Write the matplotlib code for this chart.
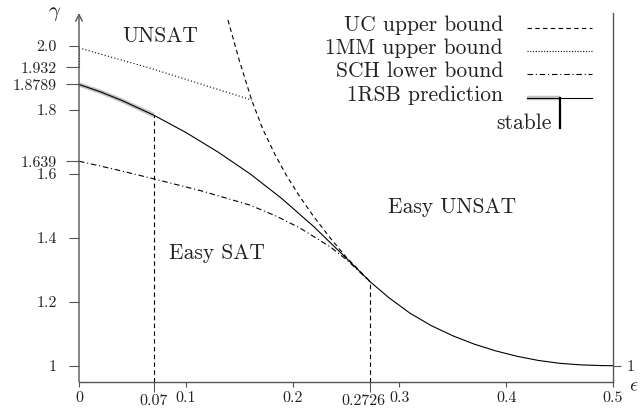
import matplotlib
matplotlib.use("Agg")
import matplotlib.pyplot as plt
from matplotlib.lines import Line2D
from matplotlib.transforms import ScaledTranslation

plt.rcParams["font.family"] = ["cmr10", "DejaVu Serif"]
plt.rcParams["mathtext.fontset"] = "cm"
plt.rcParams["axes.unicode_minus"] = False

# 1RSB prediction (solid), first part marked as stable (grey band)
rsb_eps = [0, 0.02, 0.04, 0.07, 0.1, 0.13, 0.16, 0.19, 0.22, 0.25, 0.2726,
           0.29, 0.31, 0.33, 0.35, 0.37, 0.39, 0.41, 0.43, 0.45, 0.47, 0.49, 0.5]
rsb_gamma = [1.8789, 1.856, 1.829, 1.783, 1.729, 1.668, 1.600, 1.522, 1.434,
             1.337, 1.2625, 1.2129, 1.1639, 1.1249, 1.0935, 1.0675, 1.0465,
             1.0295, 1.0165, 1.0075, 1.0025, 1.0003, 1.0]
stable_eps_max = 0.07

# UC upper bound (dashed)
uc_eps = [0.1395, 0.150, 0.1617, 0.172, 0.1835, 0.195, 0.207, 0.22, 0.235,
          0.25, 0.2726]
uc_gamma = [2.080, 1.955, 1.830, 1.740, 1.660, 1.590, 1.527, 1.465, 1.400,
            1.340, 1.2625]

# 1MM upper bound (dotted)
mm_eps = [0, 0.0665, 0.162]
mm_gamma = [1.993, 1.930, 1.830]
mm_start = [1.932, 1.993]

# SCH lower bound (dash-dot)
sch_eps = [0, 0.035, 0.07, 0.115, 0.16, 0.185, 0.207, 0.235, 0.251, 0.2726]
sch_gamma = [1.639, 1.6125, 1.584, 1.546, 1.502, 1.467, 1.430, 1.372, 1.330,
             1.2625]

# thresholds
eps_marks = [0.07, 0.2726]
gamma_marks = [1.783, 1.2625]

x_ticks = [0, 0.1, 0.2, 0.3, 0.4, 0.5]
x_labels = ["0", "0.1", "0.2", "0.3", "0.4", "0.5"]
x_special = [0.07, 0.2726]
x_special_labels = ["0.07", "0.2726"]
y_ticks = [1, 1.2, 1.4, 1.6, 1.8, 2.0]
y_labels = ["1", "1.2", "1.4", "1.6", "1.8", "2.0"]
y_special = [1.639, 1.8789, 1.932]
y_special_labels = ["1.639", "1.8789", "1.932"]

W, H = 640, 411
AX_COL = "#555555"
TXT_COL = "#222222"
TICK_FS = 11.5
BIG_FS = 15.5


def px(x, y):
    return x / W, 1 - y / H


fig = plt.figure(figsize=(6.4, 4.11), dpi=100)
ax = fig.add_axes([79 / W, (H - 381.7) / H, 534 / W, (381.7 - 13) / H])
ax.set_xlim(0, 0.5)
ax.set_ylim(0.95, 2.1022)

# curves
stable = [i for i, e in enumerate(rsb_eps) if e <= stable_eps_max]
ax.plot([rsb_eps[i] for i in stable], [rsb_gamma[i] for i in stable],
        color="#c4c4c4", lw=3.2, solid_capstyle="butt")
ax.plot(rsb_eps, rsb_gamma, color="black", lw=0.8)
ax.plot(uc_eps, uc_gamma, color="black", lw=0.8, dashes=(4, 3))
ax.plot(mm_eps, mm_gamma, color="black", lw=0.8, dashes=(1, 2))
ax.plot([0, 0], mm_start, color="black", lw=0.8, dashes=(1, 1.5))
ax.plot(sch_eps, sch_gamma, color="black", lw=0.8, dashes=(5, 2.5, 1, 2.5))
for e, g in zip(eps_marks, gamma_marks):
    ax.plot([e, e], [0.95, g], color="black", lw=0.8, dashes=(4, 3))

# axes styling
for s in ["top", "left"]:
    ax.spines[s].set_visible(False)
for s in ["bottom", "right"]:
    ax.spines[s].set_color(AX_COL)
    ax.spines[s].set_linewidth(1.0)
ax.annotate("", xy=(0, 1), xytext=(0, 0), xycoords="axes fraction",
            arrowprops=dict(arrowstyle="->", lw=1.0, color=AX_COL,
                            shrinkA=0, shrinkB=0, mutation_scale=12))

ax.set_xticks(x_ticks, x_labels)
ax.set_xticks(x_special, x_special_labels, minor=True)
ax.set_yticks(y_ticks, y_labels)
ax.set_yticks(y_special, y_special_labels, minor=True)
ax.tick_params(axis="x", which="major", direction="out", length=3.6, width=0.8,
               color=AX_COL, pad=3, labelsize=TICK_FS, labelcolor=TXT_COL)
ax.tick_params(axis="x", which="minor", direction="out", length=7.2, width=0.8,
               color=AX_COL, pad=1.5, labelsize=TICK_FS, labelcolor=TXT_COL)
ax.tick_params(axis="y", which="major", direction="out", length=7, width=0.8,
               color=AX_COL, pad=8.8, labelsize=TICK_FS, labelcolor=TXT_COL)
ax.tick_params(axis="y", which="minor", direction="out", length=9.4, width=0.8,
               color=AX_COL, pad=6.4, labelsize=TICK_FS, labelcolor=TXT_COL)

# nudge the 0.2726 label left so it does not run into 0.3
for lbl in ax.get_xticklabels(minor=True):
    if lbl.get_text() == "0.2726":
        lbl.set_transform(lbl.get_transform()
                          + ScaledTranslation(-7 / 100, 0, fig.dpi_scale_trans))

# right "1" tick
ax2 = ax.twinx()
ax2.set_ylim(ax.get_ylim())
ax2.set_yticks([1], ["1"])
for s in ["top", "left", "bottom", "right"]:
    ax2.spines[s].set_visible(False)
ax2.tick_params(axis="y", direction="out", length=6, width=0.8, color=AX_COL,
                pad=3.5, labelsize=TICK_FS, labelcolor=TXT_COL)

# axis names
fig.text(*px(55, 14), r"$\gamma$", fontsize=15, ha="center", va="center", color=TXT_COL)
fig.text(*px(634, 386), r"$\epsilon$", fontsize=14, ha="center", va="center", color=TXT_COL)

# region labels
fig.text(*px(122.7, 41.7), "UNSAT", fontsize=BIG_FS, ha="left", va="baseline", color=TXT_COL)
fig.text(*px(169, 259), "Easy SAT", fontsize=BIG_FS, ha="left", va="baseline", color=TXT_COL)
fig.text(*px(388, 213), "Easy UNSAT", fontsize=BIG_FS, ha="left", va="baseline", color=TXT_COL)

# legend
legend_rows = ["UC upper bound", "1MM upper bound", "SCH lower bound", "1RSB prediction"]
legend_dashes = [(4, 3), (1, 1.5), (5, 2.5, 1, 2.5), None]
for i, (name, d) in enumerate(zip(legend_rows, legend_dashes)):
    yb = 30.7 + 23.3 * i
    fig.text(*px(503, yb), name, fontsize=BIG_FS, ha="right", va="baseline", color=TXT_COL)
    ys = yb - 3
    if d is None:
        fig.add_artist(Line2D([527 / W, 560 / W], [1 - ys / H] * 2, color="#c4c4c4",
                              lw=3.2, solid_capstyle="butt"))
        fig.add_artist(Line2D([527 / W, 592 / W], [1 - ys / H] * 2, color="black", lw=0.8))
        fig.add_artist(Line2D([560 / W, 560 / W], [1 - ys / H, 1 - 128 / H],
                              color="black", lw=1.6))
    else:
        fig.add_artist(Line2D([527 / W, 592 / W], [1 - ys / H] * 2, color="black",
                              lw=0.8, dashes=d))
fig.text(*px(552, 129), "stable", fontsize=BIG_FS, ha="right", va="baseline", color=TXT_COL)

fig.savefig("out.png", dpi=100)
